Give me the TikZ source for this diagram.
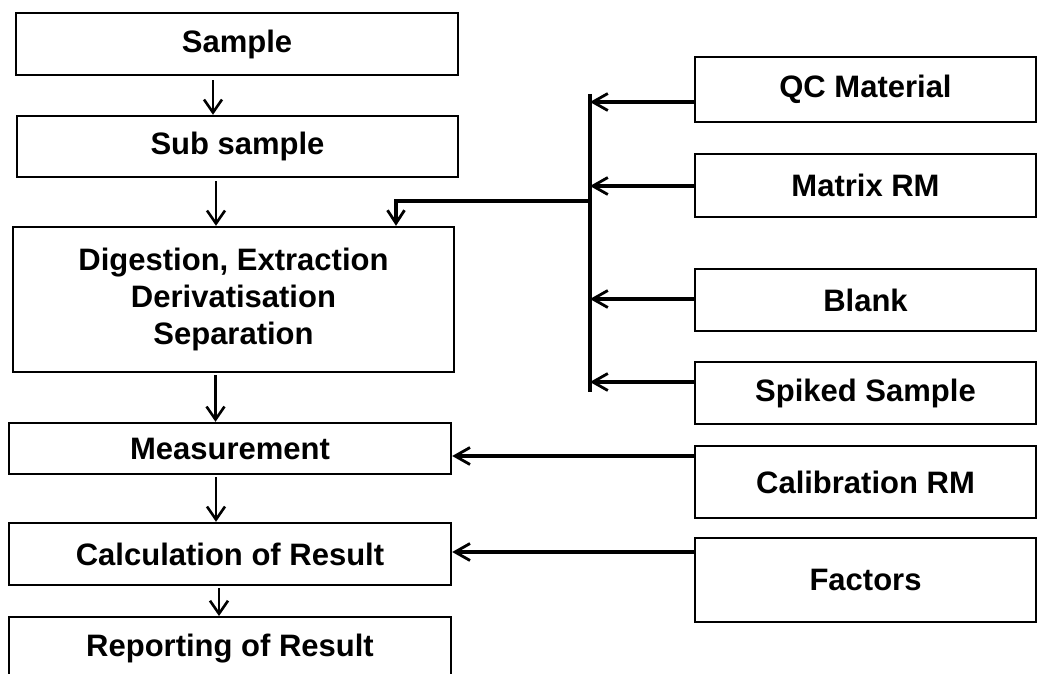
\documentclass[tikz,border=0pt]{standalone}
\usepackage{fontspec}
\setmainfont{Liberation Sans}
\usetikzlibrary{arrows.meta,calc}
\begin{document}
\begin{tikzpicture}[x=1pt,y=-1pt,
  box/.style={draw,line width=2.4pt,inner sep=0pt,align=center,
    font=\fontsize{31}{37}\selectfont\bfseries},
  varrow/.style={line width=2.2pt,-{Straight Barb[length=13pt,width=18pt,line width=2.6pt]}},
  harrow/.style={line width=3.4pt,-{Straight Barb[length=15pt,width=17pt,line width=2.8pt]}}]
\useasboundingbox (0,0) rectangle (1039,674);
\clip (0,0) rectangle (1039,674);
% left column
\node[box,minimum width=442pt,minimum height=62pt] (sample) at (237,44) {Sample};
\node[box,minimum width=441pt,minimum height=61pt] (sub) at (237.5,146.5) {Sub sample};
\node[box,minimum width=441pt,minimum height=145pt] (dig) at (233.5,299.5) {Digestion, Extraction\\Derivatisation\\Separation};
\node[box,minimum width=442pt,minimum height=51pt] (meas) at (230,448.5) {Measurement};
\node[box,minimum width=442pt,minimum height=62pt] (calc) at (230,554) {Calculation of Result};
\node[box,minimum width=442pt,minimum height=68pt,anchor=north] (rep) at (230,616) {};
\node[font=\fontsize{31}{37}\selectfont\bfseries] (reptext) at (230,649) {Reporting of Result};
% right column
\node[box,minimum width=341pt,minimum height=65pt] (qc) at (865.5,89.5) {QC Material};
\node[box,minimum width=341pt,minimum height=63pt] (mat) at (865.5,185.5) {Matrix RM};
\node[box,minimum width=341pt,minimum height=62pt] (blank) at (865.5,300) {Blank};
\node[box,minimum width=341pt,minimum height=62pt] (spk) at (865.5,393) {Spiked Sample};
\node[box,minimum width=341pt,minimum height=72pt] (cal) at (865.5,482) {Calibration RM};
\node[box,minimum width=341pt,minimum height=84pt] (fac) at (865.5,580) {Factors};
% bus
\coordinate (busT) at (590,94);
\coordinate (busB) at (590,392);
\draw[line width=3.4pt] (busT) -- (busB);
\coordinate (qcA) at ($(qc.west)+(0,12.5)$);
\coordinate (matA) at ($(mat.west)+(0,0.5)$);
\coordinate (blA) at ($(blank.west)+(0,-1)$);
\coordinate (spA) at ($(spk.west)+(0,-11)$);
\draw[harrow] (qcA) -- (busT |- qcA);
\draw[harrow] (matA) -- (busT |- matA);
\draw[harrow] (blA) -- (busT |- blA);
\draw[harrow] (spA) -- (busT |- spA);
\coordinate (brk) at (590,201);
\coordinate (digIn) at ($(dig.north)+(162.5,0)$);
\draw[line width=3.4pt,-{Straight Barb[length=13pt,width=17pt,line width=2.8pt]}] (brk) -| (digIn);
% calibration and factors
\coordinate (calA) at ($(cal.west)+(0,-26)$);
\coordinate (facA) at ($(fac.west)+(0,-28)$);
\draw[harrow] (calA) -- (meas.east |- calA);
\draw[harrow] (facA) -- (calc.east |- facA);
% left vertical arrows
\coordinate (s1) at ($(sample.south)+(-24,4)$);
\draw[varrow] (s1) -- (s1 |- sub.north);
\coordinate (s2) at ($(sub.south)+(-21.5,3)$);
\draw[varrow] (s2) -- (s2 |- dig.north);
\coordinate (s3) at ($(dig.south)+(-18,2)$);
\draw[varrow] (s3) -- (s3 |- meas.north);
\coordinate (s4) at ($(meas.south)+(-14,2)$);
\draw[varrow] (s4) -- (s4 |- calc.north);
\coordinate (s5) at ($(calc.south)+(-11,2)$);
\draw[varrow] (s5) -- (s5 |- rep.north);
\end{tikzpicture}
\end{document}
